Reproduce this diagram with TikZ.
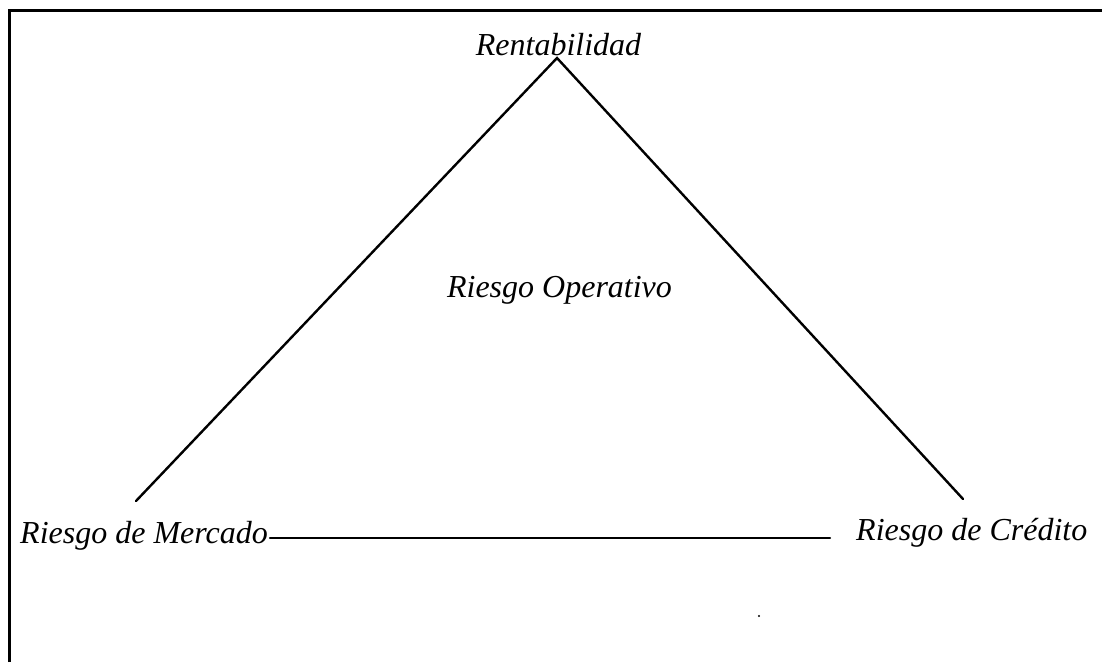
\documentclass[tikz,border=0pt]{standalone}
\usepackage{fontspec}
\setmainfont{Liberation Serif}
\begin{document}
\begin{tikzpicture}[x=1pt,y=-1pt,
  lbl/.style={inner sep=0pt,font=\fontsize{32}{36}\selectfont\itshape},
  edge/.style={line width=2.4pt,line cap=round},
  frame/.style={line width=2.4pt}]
\useasboundingbox (0,0) rectangle (1102,662);
% frame (top and left only)
\draw[frame] (9.5,662) -- (9.5,10.5) -- (1102,10.5);
% labels
\node[lbl,anchor=base] (rent) at (558.5,55) {Rentabilidad};
\node[lbl,anchor=base] (oper) at (559.5,297) {Riesgo Operativo};
\node[lbl,anchor=base west] (merc) at (20,543) {Riesgo de Mercado};
\node[lbl,anchor=base west] (cred) at (856,540) {Riesgo de Crédito};
% triangle points
\coordinate (apex) at (557,58);
\coordinate (lfoot) at (136,501);
\coordinate (rfoot) at (963,499);
\coordinate (bend) at (830,538);
\draw[edge] (lfoot) -- (apex) -- (rfoot);
\path (merc.base east) ++(2,-5) coordinate (bstart);
\draw[edge] (bstart) -- (bend);
\fill (759,616) circle (1.2pt);
\end{tikzpicture}
\end{document}
